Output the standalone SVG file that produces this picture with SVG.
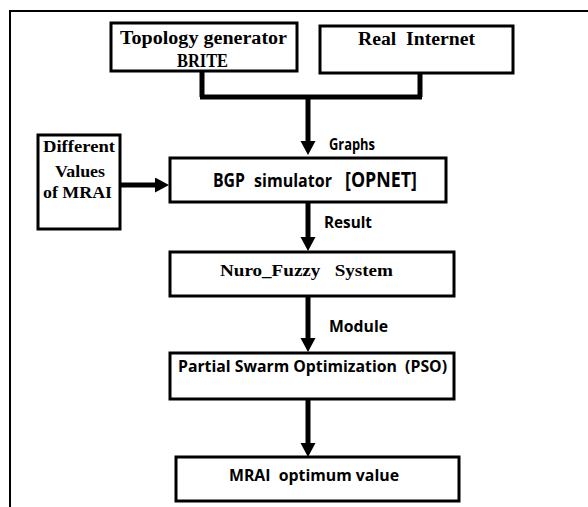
<svg xmlns="http://www.w3.org/2000/svg" width="588" height="507" viewBox="0 0 588 507">
<style>
.box{fill:#fff;stroke:#000;stroke-width:3}
.frame{fill:none;stroke:#000;stroke-width:2}
.conn{fill:none;stroke:#000;stroke-width:5}
.serif{font-family:"Liberation Serif","DejaVu Serif",serif;font-weight:bold;fill:#000}
.sans{font-family:"Open Sans","Liberation Sans",sans-serif;font-weight:bold;fill:#000}
</style>
<defs>
<marker id="ah" markerUnits="userSpaceOnUse" markerWidth="16" markerHeight="16" refX="2" refY="7.5" orient="auto">
<path d="M0,0 L14,7.5 L0,15 z" fill="#000"/>
</marker>
</defs>
<rect width="588" height="507" fill="#fff"/>
<path class="frame" d="M10,507 V11 H588"/>
<g id="connectors">
<path class="conn" d="M202,71 V97 M420,73 V97 M200,97 H422"/>
<path class="conn" d="M308,97 V143" marker-end="url(#ah)"/>
<path class="conn" d="M118,185 H157" marker-end="url(#ah)"/>
<path class="conn" d="M308,202 V239" marker-end="url(#ah)"/>
<path class="conn" d="M308,296 V340" marker-end="url(#ah)"/>
<path class="conn" d="M308,399 V445" marker-end="url(#ah)"/>
<text class="sans" x="329" y="150" font-size="16" textLength="46" lengthAdjust="spacingAndGlyphs">Graphs</text>
<text class="sans" x="324" y="228" font-size="16" textLength="48" lengthAdjust="spacingAndGlyphs">Result</text>
<text class="sans" x="329" y="332" font-size="16" textLength="59" lengthAdjust="spacingAndGlyphs">Module</text>
</g>
<g id="topology">
<rect class="box" x="111" y="23" width="186" height="48"/>
<text class="serif" x="120" y="44" font-size="18" textLength="167" lengthAdjust="spacingAndGlyphs">Topology generator</text>
<text class="serif" x="177" y="67" font-size="18" textLength="51" lengthAdjust="spacingAndGlyphs">BRITE</text>
</g>
<g id="internet">
<rect class="box" x="320" y="26" width="193" height="47"/>
<text class="serif" x="358" y="45" font-size="18" textLength="117" lengthAdjust="spacingAndGlyphs">Real&#160; Internet</text>
</g>
<g id="mrai-values">
<rect class="box" x="38" y="135" width="82" height="94"/>
<text class="serif" x="43" y="152" font-size="16" textLength="72" lengthAdjust="spacingAndGlyphs">Different</text>
<text class="serif" x="55" y="177" font-size="16" textLength="50" lengthAdjust="spacingAndGlyphs">Values</text>
<text class="serif" x="43" y="198" font-size="16" textLength="69" lengthAdjust="spacingAndGlyphs">of MRAI</text>
</g>
<g id="bgp">
<rect class="box" x="170" y="158" width="276" height="44"/>
<text class="sans" x="213" y="187" font-size="20" textLength="32" lengthAdjust="spacingAndGlyphs">BGP</text>
<text class="sans" x="254" y="187" font-size="17" textLength="78" lengthAdjust="spacingAndGlyphs">simulator</text>
<text class="sans" x="345" y="187" font-size="21" textLength="72" lengthAdjust="spacingAndGlyphs">[OPNET]</text>
</g>
<g id="nuro">
<rect class="box" x="170" y="252" width="284" height="44"/>
<text class="serif" x="220" y="276" font-size="17" textLength="173" lengthAdjust="spacingAndGlyphs">Nuro_Fuzzy&#160;&#160; System</text>
</g>
<g id="pso">
<rect class="box" x="170" y="353" width="284" height="46"/>
<text class="sans" x="178" y="372" font-size="16" textLength="269" lengthAdjust="spacingAndGlyphs">Partial Swarm Optimization&#160; (PSO)</text>
</g>
<g id="optimum">
<rect class="box" x="176" y="457" width="283" height="44"/>
<text class="sans" x="229" y="481" font-size="16" textLength="170" lengthAdjust="spacingAndGlyphs">MRAI&#160; optimum value</text>
</g>
</svg>
